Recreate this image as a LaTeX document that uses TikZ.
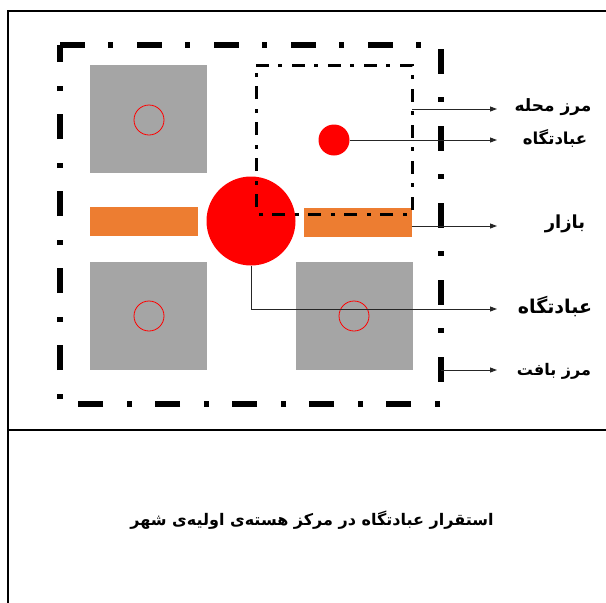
\documentclass[tikz,border=0pt]{standalone}
\usepackage{fontspec}
\newfontfamily\arabicfont[Script=Arabic]{DejaVu Sans}
\TeXXeTstate=1
\usetikzlibrary{arrows.meta}
\definecolor{blockgray}{HTML}{A5A5A5}
\definecolor{bazaar}{HTML}{ED7D31}
\begin{document}
\begin{tikzpicture}[x=1pt,y=-1pt,
  graybox/.style={fill=blockgray,draw=none,minimum width=117pt,minimum height=108pt,inner sep=0pt},
  ring/.style={circle,draw=red,line width=0.8pt,minimum size=30pt,inner sep=0pt},
  bar/.style={fill=bazaar,draw=none,minimum width=108pt,minimum height=29pt,inner sep=0pt},
  bigdash/.style={line width=6pt,dash pattern=on 25pt off 23pt on 5pt off 24pt},
  smalldash/.style={line width=3pt,dash pattern=on 13pt off 9pt on 4pt off 10pt},
  conn/.style={draw=black!85,line width=0.9pt,-{Triangle[length=7pt,width=5pt]}},
  lbl/.style={font=\arabicfont\bfseries\fontsize{#1}{22}\selectfont,inner sep=0pt},
  lbl/.default=18]
\useasboundingbox (0,0) rectangle (606,603);
% outer frame
\draw[line width=2.5pt] (620,11) -- (8,11) -- (8,620);
\draw[line width=2pt] (8,430) -- (620,430);

% blocks
\node[graybox] (g1) at (148.5,119) {};
\node[graybox] (g2) at (148.5,316) {};
\node[graybox] (g3) at (354.5,316) {};
\node[ring] (r1) at (149,120) {};
\node[ring] (r2) at (149,316) {};
\node[ring] (r3) at (354,316) {};
\node[bar] (b1) at (143.5,221.5) {};
\node[bar] (b2) at (357.5,222.5) {};
\node[circle,fill=red,minimum size=89pt,inner sep=0pt] (mosque) at (251,221) {};
\node[circle,fill=red,minimum size=31pt,inner sep=0pt] (small) at (334,140) {};

% neighbourhood boundary
\coordinate (m1) at (256,65);
\coordinate (m2) at (412,65);
\coordinate (m3) at (412,214);
\coordinate (m4) at (256,214);
\draw[smalldash] (m1) -- (m2) -- (m3) -- (m4) -- cycle;

% fabric boundary
\coordinate (f1) at (60,45);
\coordinate (f2) at (441,45);
\coordinate (f3) at (441,404);
\coordinate (f4) at (60,404);
\draw[bigdash] (f1) -- (f2) -- (f3) -- (f4) -- cycle;

% labels
\node[lbl=17] (la) at (553,107) {\beginR مرز محله\endR};
\node[lbl=16.5] (lb) at (555,138) {\beginR عبادتگاه\endR};
\node[lbl=18] (lc) at (565,224) {\beginR بازار\endR};
\node[lbl=19] (ld) at (555,306) {\beginR عبادتگاه\endR};
\node[lbl=16] (le) at (554,371) {\beginR مرز بافت\endR};
\node[lbl=16] (cap) at (312,520) {\beginR استقرار عبادتگاه در مرکز هسته‌ی اولیه‌ی شهر\endR};

% connector ends
\coordinate (ta) at (497,109);
\coordinate (tb) at (497,140);
\coordinate (tc) at (497,226);
\coordinate (td) at (497,309);
\coordinate (te) at (497,370);
\coordinate (sa) at (412,109);
\coordinate (se) at (441,370);
\draw[conn] (sa) -- (ta);
\draw[conn] (small.east) -- (tb);
\draw[conn] (b2.east |- tc) -- (tc);
\draw[conn] (mosque.south) |- (td);
\draw[conn] (se) -- (te);
\end{tikzpicture}
\end{document}
